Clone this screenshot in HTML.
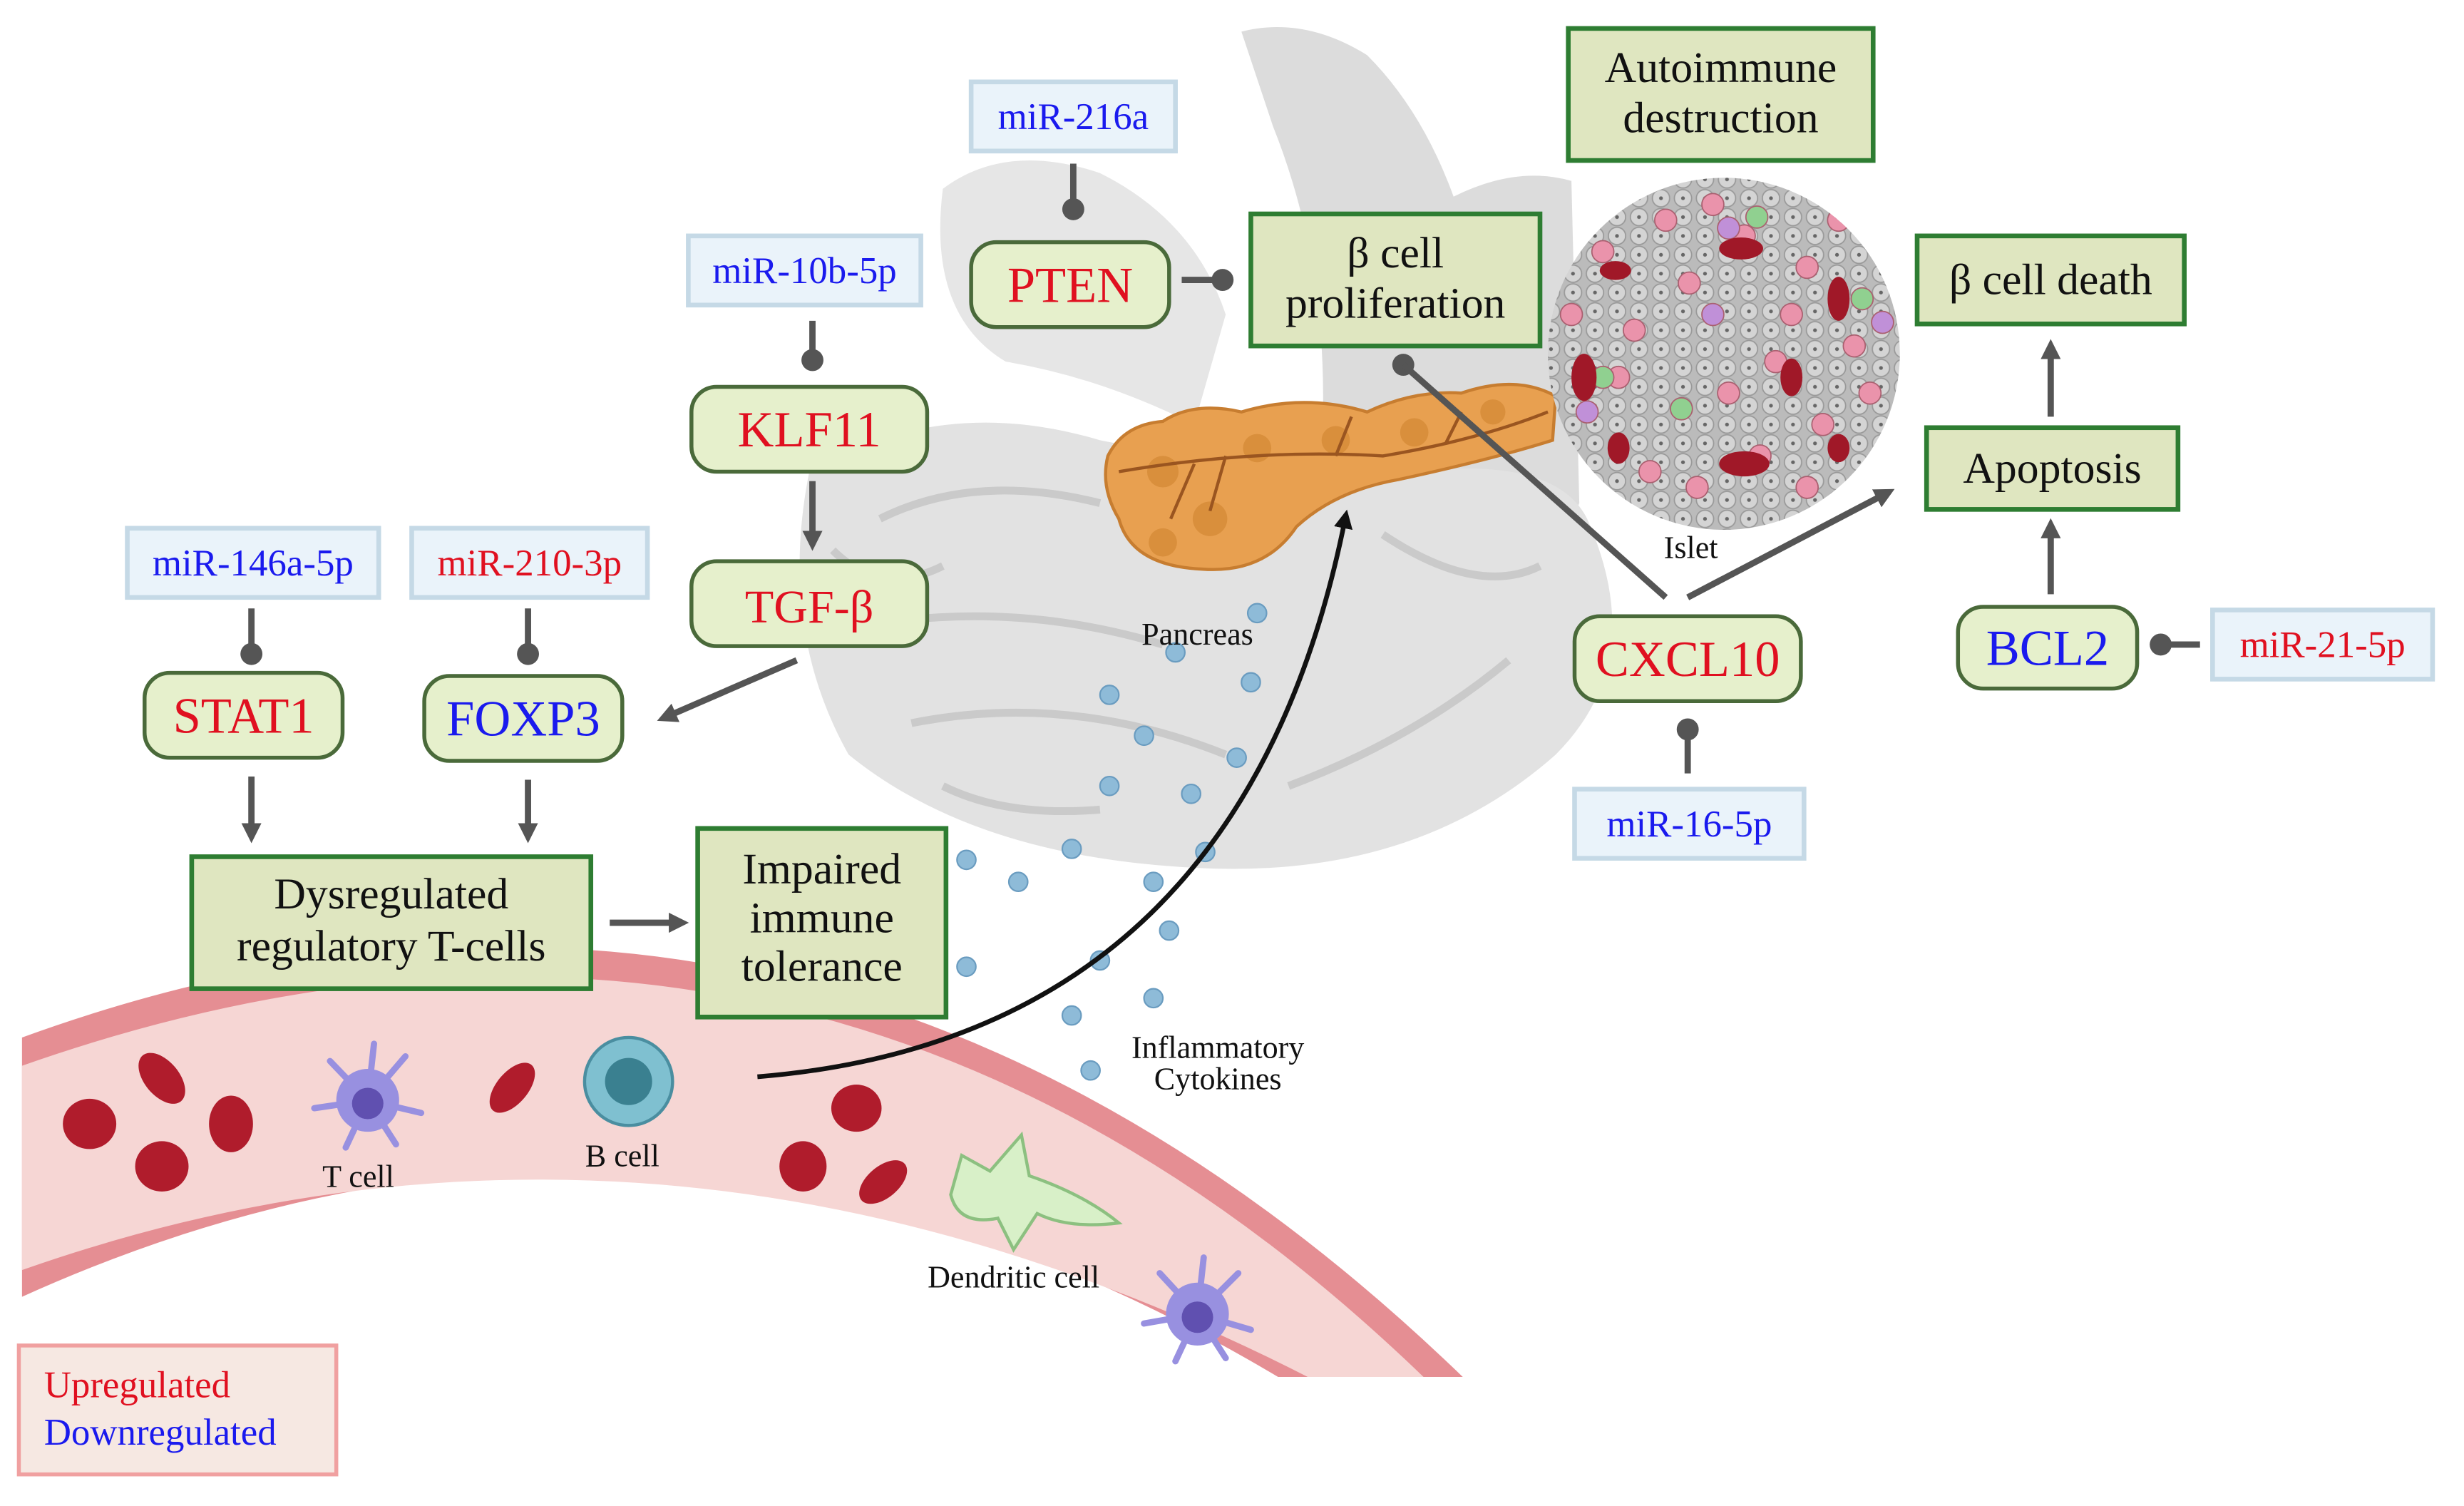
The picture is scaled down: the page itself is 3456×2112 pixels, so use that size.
<!DOCTYPE html>
<html><head><meta charset="utf-8"><style>
html,body{margin:0;padding:0;background:#fff;}
svg{display:block;}
text{font-family:"Liberation Serif",serif;}
</style></head><body>
<svg width="3456" height="2112" viewBox="0 0 1568 958" xmlns="http://www.w3.org/2000/svg">
<defs>
<marker id="ah" viewBox="0 0 10 10" refX="5" refY="5" markerWidth="3.2" markerHeight="3.2" orient="auto"><path d="M0,0 L10,5 L0,10 z" fill="#555"/></marker>
<marker id="ahb" viewBox="0 0 10 10" refX="5" refY="5" markerWidth="4" markerHeight="4" orient="auto"><path d="M0,0 L10,5 L0,10 z" fill="#111"/></marker>
<clipPath id="vc"><rect x="0" y="0" width="935" height="876"/></clipPath>
<clipPath id="ic"><circle cx="1097" cy="225" r="112"/></clipPath>
<pattern id="cells" width="14" height="12" patternUnits="userSpaceOnUse">
<rect width="14" height="12" fill="#bbb"/>
<circle cx="7" cy="6" r="5.5" fill="#d4d4d4" stroke="#999" stroke-width="0.8"/>
<circle cx="7" cy="6" r="1.2" fill="#666"/>
</pattern>
</defs>
<rect width="1568" height="958" fill="#fff"/>
<!-- stomach -->
<path d="M790,20 Q830,10 870,35 Q905,70 925,125 Q965,105 1000,115 L1005,320 Q965,420 905,470 Q840,510 760,500 Q820,420 840,300 Q850,180 810,80 Z" fill="#dcdcdc"/>
<!-- intestines -->
<path d="M515,300 Q600,250 700,280 Q800,300 900,300 Q990,290 1010,330 Q1050,420 990,480 Q900,560 760,552 Q620,545 540,480 Q495,400 515,300 Z" fill="#e2e2e2"/>
<path d="M560,330 Q620,300 700,320 M540,400 Q640,380 740,410 M580,460 Q680,440 780,480 M820,500 Q900,470 960,420 M880,340 Q940,380 980,360 M530,350 Q560,380 600,360 M600,500 Q640,520 700,515" stroke="#cacaca" stroke-width="5" fill="none"/>
<path d="M600,120 Q640,90 700,110 Q760,140 780,200 L760,270 Q700,240 640,230 Q590,200 600,120 Z" fill="#e6e6e6"/>
<!-- pancreas -->
<path d="M705,290 Q715,270 740,268 Q760,255 790,262 Q830,250 870,262 Q900,248 930,250 Q965,238 990,252 L988,280 Q950,292 890,305 Q850,312 825,335 Q805,365 765,362 Q720,360 712,330 Q700,310 705,290 Z" fill="#e8a050" stroke="#c77d30" stroke-width="2"/>
<g fill="#d98f3c"><circle cx="740" cy="300" r="10"/><circle cx="770" cy="330" r="11"/><circle cx="800" cy="285" r="9"/><circle cx="850" cy="280" r="9"/><circle cx="900" cy="275" r="9"/><circle cx="950" cy="262" r="8"/><circle cx="740" cy="345" r="9"/></g>
<path d="M712,300 Q800,285 880,290 Q940,280 985,262 M780,290 L770,325 M850,290 L860,265 M920,282 L930,262 M760,295 L745,330" stroke="#9a5520" stroke-width="2" fill="none"/>
<!-- islet -->
<circle cx="1097" cy="225" r="112" fill="url(#cells)"/>
<g clip-path="url(#ic)" stroke="#aa6070" stroke-width="0.8" fill="#ea93ab">
<circle cx="1020" cy="160" r="7"/><circle cx="1060" cy="140" r="7"/><circle cx="1110" cy="150" r="7"/><circle cx="1150" cy="170" r="7"/><circle cx="1180" cy="220" r="7"/><circle cx="1040" cy="210" r="7"/><circle cx="1130" cy="230" r="7"/><circle cx="1120" cy="290" r="7"/><circle cx="1160" cy="270" r="7"/><circle cx="1050" cy="300" r="7"/><circle cx="1100" cy="250" r="7"/><circle cx="1075" cy="180" r="7"/><circle cx="1140" cy="200" r="7"/><circle cx="1000" cy="200" r="7"/><circle cx="1190" cy="250" r="7"/><circle cx="1080" cy="310" r="7"/><circle cx="1150" cy="310" r="7"/><circle cx="1030" cy="240" r="7"/><circle cx="1170" cy="140" r="7"/><circle cx="1090" cy="130" r="7"/>
<circle cx="1090" cy="200" r="7" fill="#c090d8"/><circle cx="1010" cy="262" r="7" fill="#c090d8"/><circle cx="1198" cy="205" r="7" fill="#c090d8"/><circle cx="1100" cy="145" r="7" fill="#c090d8"/>
<circle cx="1070" cy="260" r="7" fill="#90d090"/><circle cx="1185" cy="190" r="7" fill="#90d090"/><circle cx="1118" cy="138" r="7" fill="#90d090"/><circle cx="1020" cy="240" r="7" fill="#90d090"/>
</g>
<g clip-path="url(#ic)" fill="#a01828">
<ellipse cx="1108" cy="158" rx="14" ry="7"/><ellipse cx="1170" cy="190" rx="7" ry="14"/><ellipse cx="1008" cy="240" rx="8" ry="15"/><ellipse cx="1110" cy="295" rx="16" ry="8"/><ellipse cx="1140" cy="240" rx="7" ry="12"/><ellipse cx="1030" cy="285" rx="7" ry="10"/><ellipse cx="1028" cy="172" rx="10" ry="6"/><ellipse cx="1170" cy="285" rx="7" ry="9"/>
</g>
<!-- vessel -->
<g clip-path="url(#vc)">
<path d="M14,660 Q520,476 935,880 L820,880 Q423,640 14,825 Z" fill="#e58e93"/>
<path d="M14,678 Q520,500 910,880 L840,880 Q423,664 14,808 Z" fill="#f6d6d4"/>
</g>
<!-- cells -->
<g fill="#b01c2c">
<ellipse cx="57" cy="715" rx="17" ry="16"/><ellipse cx="103" cy="686" rx="11" ry="19" transform="rotate(-40 103 686)"/><ellipse cx="103" cy="742" rx="17" ry="16"/><ellipse cx="147" cy="715" rx="14" ry="18"/><ellipse cx="326" cy="692" rx="10" ry="19" transform="rotate(40 326 692)"/><ellipse cx="545" cy="705" rx="16" ry="15"/><ellipse cx="511" cy="742" rx="15" ry="16"/><ellipse cx="562" cy="752" rx="10" ry="18" transform="rotate(50 562 752)"/>
</g>
<circle cx="400" cy="688" r="28" fill="#7fc0d0" stroke="#4a8ea0" stroke-width="2"/><circle cx="400" cy="688" r="15" fill="#3a8090"/>
<g stroke="#9890e0" stroke-width="4" stroke-linecap="round">
<path d="M234,700 L210,675 M234,700 L258,672 M234,700 L200,705 M234,700 L268,708 M234,700 L220,730 M234,700 L252,728 M234,700 L238,664"/>
<path d="M762,836 L738,810 M762,836 L788,810 M762,836 L728,842 M762,836 L796,846 M762,836 L748,866 M762,836 L780,864 M762,836 L766,800"/>
</g>
<circle cx="234" cy="700" r="20" fill="#9890e0"/><circle cx="234" cy="702" r="10" fill="#6050b0"/>
<circle cx="762" cy="836" r="20" fill="#9890e0"/><circle cx="762" cy="838" r="10" fill="#6050b0"/>
<path d="M612,735 L630,745 L650,722 L655,748 Q690,760 712,778 Q680,782 660,772 L645,795 L635,775 Q610,780 605,760 Z" fill="#d8f0c8" stroke="#8cc080" stroke-width="2"/>
<!-- cytokines -->
<g fill="#8ebbd8" stroke="#6a9cc0" stroke-width="1">
<circle cx="800" cy="390" r="6"/><circle cx="748" cy="415" r="6"/><circle cx="796" cy="434" r="6"/><circle cx="706" cy="442" r="6"/><circle cx="728" cy="468" r="6"/><circle cx="787" cy="482" r="6"/><circle cx="706" cy="500" r="6"/><circle cx="758" cy="505" r="6"/><circle cx="682" cy="540" r="6"/><circle cx="767" cy="542" r="6"/><circle cx="615" cy="547" r="6"/><circle cx="648" cy="561" r="6"/><circle cx="734" cy="561" r="6"/><circle cx="744" cy="592" r="6"/><circle cx="700" cy="611" r="6"/><circle cx="615" cy="615" r="6"/><circle cx="734" cy="635" r="6"/><circle cx="682" cy="646" r="6"/><circle cx="694" cy="681" r="6"/>
</g>
<!-- small labels -->
<g font-size="20" fill="#111">
<text x="762" y="410" text-anchor="middle">Pancreas</text>
<text x="1076" y="355" text-anchor="middle">Islet</text>
<text x="775" y="673" text-anchor="middle">Inflammatory</text>
<text x="775" y="693" text-anchor="middle">Cytokines</text>
<text x="228" y="755" text-anchor="middle">T cell</text>
<text x="396" y="742" text-anchor="middle">B cell</text>
<text x="645" y="819" text-anchor="middle">Dendritic  cell</text>
</g>
<!-- connectors -->
<g stroke="#555" stroke-width="4" fill="#555">
<line x1="683" y1="104" x2="683" y2="128"/><circle cx="683" cy="133" r="7" stroke="none"/>
<line x1="752" y1="178" x2="774" y2="178"/><circle cx="778" cy="178" r="7" stroke="none"/>
<line x1="517" y1="204" x2="517" y2="224"/><circle cx="517" cy="229" r="7" stroke="none"/>
<line x1="160" y1="387" x2="160" y2="410"/><circle cx="160" cy="416" r="7" stroke="none"/>
<line x1="336" y1="387" x2="336" y2="410"/><circle cx="336" cy="416" r="7" stroke="none"/>
<line x1="1074" y1="492" x2="1074" y2="468"/><circle cx="1074" cy="464" r="7" stroke="none"/>
<line x1="1400" y1="410" x2="1380" y2="410"/><circle cx="1375" cy="410" r="7" stroke="none"/>
<circle cx="893" cy="232" r="7" stroke="none"/><line x1="893" y1="232" x2="1060" y2="380"/>
<g marker-end="url(#ah)" fill="none">
<line x1="517" y1="306" x2="517" y2="344"/>
<line x1="507" y1="420" x2="424" y2="456"/>
<line x1="160" y1="494" x2="160" y2="530"/>
<line x1="336" y1="496" x2="336" y2="530"/>
<line x1="388" y1="587" x2="432" y2="587"/>
<line x1="1074" y1="380" x2="1200" y2="314"/>
<line x1="1305" y1="378" x2="1305" y2="336"/>
<line x1="1305" y1="265" x2="1305" y2="222"/>
</g>
</g>
<path d="M482,685 Q790,660 856,330" stroke="#111" stroke-width="3" fill="none" marker-end="url(#ahb)"/>
<!-- miR boxes -->
<g fill="#eaf3fa" stroke="#c5d9e6" stroke-width="3">
<rect x="618" y="52" width="130" height="44"/><rect x="438" y="150" width="148" height="44"/><rect x="81" y="336" width="160" height="44"/><rect x="262" y="336" width="150" height="44"/><rect x="1002" y="502" width="146" height="44"/><rect x="1408" y="388" width="140" height="44"/>
</g>
<g font-size="24" text-anchor="middle">
<text x="683" y="82" fill="#1a1aee">miR-216a</text>
<text x="512" y="180" fill="#1a1aee">miR-10b-5p</text>
<text x="161" y="366" fill="#1a1aee">miR-146a-5p</text>
<text x="337" y="366" fill="#e01020">miR-210-3p</text>
<text x="1075" y="532" fill="#1a1aee">miR-16-5p</text>
<text x="1478" y="418" fill="#e01020">miR-21-5p</text>
</g>
<!-- gene boxes -->
<g fill="#e6f0cc" stroke="#4a6a3a" stroke-width="2.5">
<rect x="618" y="154" width="126" height="54" rx="16"/><rect x="440" y="246" width="150" height="54" rx="16"/><rect x="440" y="357" width="150" height="54" rx="16"/><rect x="92" y="428" width="126" height="54" rx="16"/><rect x="270" y="430" width="126" height="54" rx="16"/><rect x="1002" y="392" width="144" height="54" rx="16"/><rect x="1246" y="386" width="114" height="52" rx="16"/>
</g>
<g font-size="32" text-anchor="middle">
<text x="681" y="192" fill="#e01020">PTEN</text>
<text x="515" y="284" fill="#e01020">KLF11</text>
<text x="515" y="396" fill="#e01020" font-family="Liberation Sans,sans-serif" font-size="30">TGF-β</text>
<text x="155" y="466" fill="#e01020">STAT1</text>
<text x="333" y="468" fill="#1a1aee">FOXP3</text>
<text x="1074" y="430" fill="#e01020">CXCL10</text>
<text x="1303" y="423" fill="#1a1aee">BCL2</text>
</g>
<!-- green rect boxes -->
<g fill="#dfe6c0" stroke="#2e7d32" stroke-width="3">
<rect x="998" y="18" width="194" height="84"/><rect x="796" y="136" width="184" height="84"/><rect x="1220" y="150" width="170" height="56"/><rect x="1226" y="272" width="160" height="52"/><rect x="122" y="545" width="254" height="84"/><rect x="444" y="527" width="158" height="120"/>
</g>
<g font-size="28" text-anchor="middle" fill="#111">
<text x="1095" y="52">Autoimmune</text><text x="1095" y="84">destruction</text>
<text x="888" y="170">β cell</text><text x="888" y="202">proliferation</text>
<text x="1305" y="187">β cell death</text>
<text x="1306" y="307">Apoptosis</text>
<text x="249" y="578">Dysregulated</text><text x="249" y="611">regulatory T-cells</text>
<text x="523" y="562">Impaired</text><text x="523" y="593">immune</text><text x="523" y="624">tolerance</text>
</g>
<!-- legend -->
<rect x="12" y="856" width="202" height="82" fill="#f6e8e2" stroke="#f0a0a0" stroke-width="2.5"/>
<text x="28" y="889" font-size="24" fill="#e01020">Upregulated</text>
<text x="28" y="919" font-size="24" fill="#1a1aee">Downregulated</text>
</svg>
</body></html>
